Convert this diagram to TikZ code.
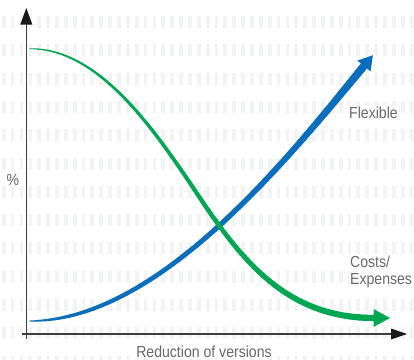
\documentclass[tikz,border=0pt]{standalone}
\usepackage{fontspec}
\setmainfont{Liberation Sans}[FakeStretch=0.88]
\usetikzlibrary{calc}
\definecolor{cblue}{RGB}{10,110,189}
\definecolor{cgreen}{RGB}{0,166,81}
\definecolor{axisgray}{RGB}{60,60,60}
\definecolor{headgray}{RGB}{25,25,25}
\definecolor{txtgray}{RGB}{105,105,105}
\definecolor{bargray}{RGB}{242,243,243}
\begin{document}
\begin{tikzpicture}[x=1bp,y=-1bp,
  lbl/.style={text=txtgray, font=\fontsize{16bp}{16.7bp}\selectfont, inner sep=1bp, fill=white},
  axisline/.style={axisgray, line width=1.2bp},
  declare function={
    bbx(\t)=(1-\t)^3*30+3*(1-\t)^2*\t*160+3*(1-\t)*\t^2*292+\t^3*364;
    bby(\t)=(1-\t)^3*321+3*(1-\t)^2*\t*321+3*(1-\t)*\t^2*153+\t^3*66;
    gax(\t)=(1-\t)^3*30+3*(1-\t)^2*\t*100+3*(1-\t)*\t^2*155+\t^3*200;
    gay(\t)=(1-\t)^3*48.7+3*(1-\t)^2*\t*48.7+3*(1-\t)*\t^2*130.5+\t^3*198;
    gbx(\t)=(1-\t)^3*200+3*(1-\t)^2*\t*245+3*(1-\t)*\t^2*290+\t^3*374;
    gby(\t)=(1-\t)^3*198+3*(1-\t)^2*\t*265.5+3*(1-\t)*\t^2*318+\t^3*318;
  }]
\useasboundingbox (0,0) rectangle (414,360);
% background bars
\foreach \r in {0,...,12}{
  \foreach \c in {0,...,46}{
    \fill[bargray] ({1.8+\c*8.867},{16+\r*28.3}) rectangle +(3.8,12);
  }
}
% axes
\coordinate (ybot) at (26.3,339);
\coordinate (ytip) at (26.3,8);
\coordinate (xleft) at (21.7,334);
\coordinate (xtip) at (407,334);
\draw[axisline] (ybot) -- ($(ytip)+(0,14)$);
\fill[headgray] (ytip) -- ++(6,16.5) -- ++(-12,0) -- cycle;
\draw[axisline] (xleft) -- ($(xtip)+(-14,0)$);
\fill[headgray] (xtip) -- ++(-16,-5.5) -- ++(0,11) -- cycle;
% blue curve (Flexible)
\foreach \i in {0,...,79}{
  \pgfmathsetmacro\ta{\i/80}
  \pgfmathsetmacro\tb{(\i+1)/80}
  \pgfmathsetmacro\tm{(\i+0.5)/80}
  \pgfmathsetmacro\w{1+3.5*(1-exp(-\tm/0.1))+3.5*\tm^2.5}
  \draw[cblue, line width=\w bp, line cap=round] ({bbx(\ta)},{bby(\ta)}) -- ({bbx(\tb)},{bby(\tb)});
}
\fill[cblue] (357.4,60.6) -- (372.9,55.2) -- (370.6,71.4) -- cycle;
% green curve (Costs/Expenses)
\foreach \i in {0,...,49}{
  \pgfmathsetmacro\ta{\i/50}
  \pgfmathsetmacro\tb{(\i+1)/50}
  \pgfmathsetmacro\tm{(\i+0.5)/100}
  \pgfmathsetmacro\w{0.8+5.5*\tm^0.7}
  \draw[cgreen, line width=\w bp, line cap=round] ({gax(\ta)},{gay(\ta)}) -- ({gax(\tb)},{gay(\tb)});
}
\foreach \i in {0,...,49}{
  \pgfmathsetmacro\ta{\i/50}
  \pgfmathsetmacro\tb{(\i+1)/50}
  \pgfmathsetmacro\tm{(\i+50.5)/100}
  \pgfmathsetmacro\w{0.8+5.5*\tm^0.7}
  \draw[cgreen, line width=\w bp, line cap=round] ({gbx(\ta)},{gby(\ta)}) -- ({gbx(\tb)},{gby(\tb)});
}
\fill[cgreen] (373.5,309) -- (390,318) -- (373.5,327) -- cycle;
% labels
\node[lbl, anchor=base] (pct) at (13,185) {\%};
\node[lbl, anchor=base west] (flex) at (348,118.3) {Flexible};
\node[lbl, anchor=base west, align=left] (cost) at (349,284) {Costs/\\Expenses};
\node[lbl, anchor=base] (xlab) at (204,357.3) {Reduction of versions};
\end{tikzpicture}
\end{document}
